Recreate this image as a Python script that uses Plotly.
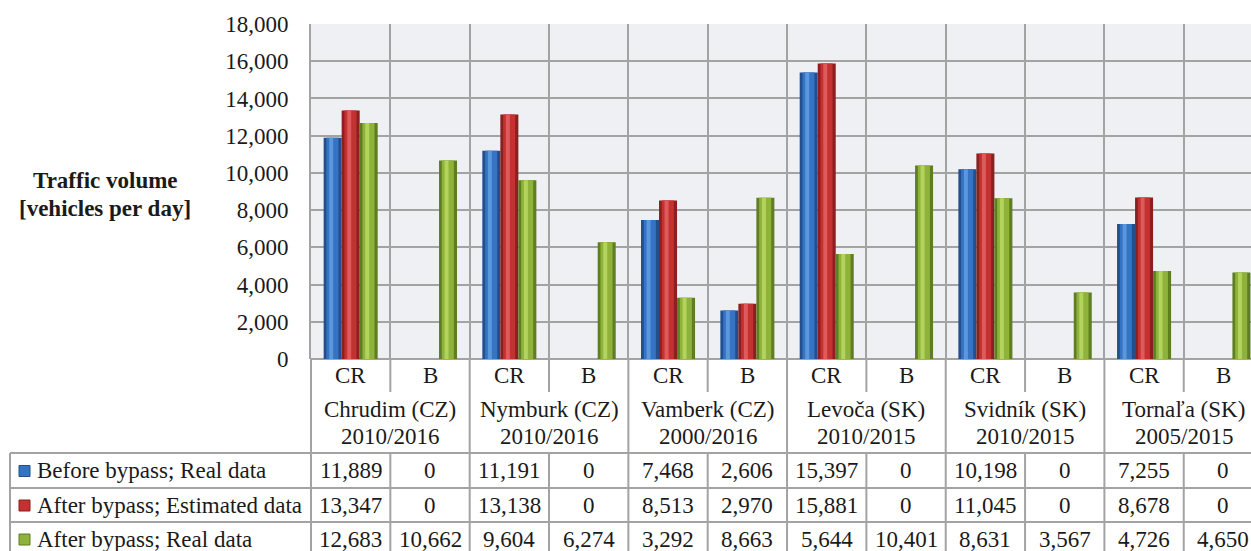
import plotly.graph_objects as go

# ---- data -------------------------------------------------------------
towns = ["Chrudim (CZ)", "Nymburk (CZ)", "Vamberk (CZ)",
         "Levoča (SK)", "Svidník (SK)", "Tornaľa (SK)"]
periods = ["2010/2016", "2010/2016", "2000/2016",
           "2010/2015", "2010/2015", "2005/2015"]
road_types = ["CR", "B"]  # CR = road through the town, B = bypass

series_names = ["Before bypass; Real data",
                "After bypass; Estimated data",
                "After bypass; Real data"]
before_real = [11889, 0, 11191, 0, 7468, 2606, 15397, 0, 10198, 0, 7255, 0]
after_estimated = [13347, 0, 13138, 0, 8513, 2970, 15881, 0, 11045, 0, 8678, 0]
after_real = [12683, 10662, 9604, 6274, 3292, 8663, 5644, 10401, 8631, 3567, 4726, 4650]

y_ticks = list(range(0, 18001, 2000))

# ---- geometry / style -------------------------------------------------
W, H = 1251, 551
PLOT_L, PLOT_R, PLOT_T, PLOT_B = 311, 1251, 24, 359
CAT_W = 79.34
FONT = "Liberation Serif, Times New Roman, serif"
TXT = "#1a1a1a"
GRID = "#a3a3a3"
FS = 23

columns = [(t, r) for t in range(len(towns)) for r in road_types]
xs = list(range(len(columns)))
x_max = -0.5 + (PLOT_R - PLOT_L) / CAT_W


def paper_x_of_cat(v):
    return (v + 0.5) * CAT_W / (PLOT_R - PLOT_L)


def paper_x(px):
    return (px - PLOT_L) / (PLOT_R - PLOT_L)


def paper_y(py):
    return (PLOT_B - py) / (PLOT_B - PLOT_T)


series = [before_real, after_estimated, after_real]
# (edge, body, highlight) shades for the rounded bar look
palettes = [("#234f8e", "#3573c4", "#5b97dd"),
            ("#8c1f1f", "#c43131", "#df5a5a"),
            ("#5f7d22", "#8fb33a", "#b2d35c")]
BAR_W = 0.227
offsets = [-1.5 * BAR_W, -0.5 * BAR_W, 0.5 * BAR_W]

fig = go.Figure()
for vals, name, (edge, body, hi), off in zip(series, series_names, palettes, offsets):
    fig.add_trace(go.Bar(x=xs, y=vals, name=name, offset=off, width=BAR_W,
                         marker=dict(color=edge, line=dict(width=0)),
                         showlegend=False, hoverinfo="y+name"))
    fig.add_trace(go.Bar(x=xs, y=vals, offset=off + 0.035, width=BAR_W - 0.075,
                         marker=dict(color=body, line=dict(width=0)),
                         showlegend=False, hoverinfo="skip"))
    fig.add_trace(go.Bar(x=xs, y=vals, offset=off + 0.07, width=0.05,
                         marker=dict(color=hi, line=dict(width=0)),
                         showlegend=False, hoverinfo="skip"))

shapes = []
annotations = []


def hline(py, px0, px1):
    shapes.append(dict(type="line", xref="paper", yref="paper",
                       x0=paper_x(px0), x1=min(1.0, paper_x(px1)),
                       y0=paper_y(py), y1=paper_y(py),
                       line=dict(color=GRID, width=2), layer="above"))


def vline(xp, py0, py1):
    shapes.append(dict(type="line", xref="paper", yref="paper",
                       x0=xp, x1=xp, y0=paper_y(py0), y1=paper_y(py1),
                       line=dict(color=GRID, width=2), layer="above"))


ROW_CR_TOP, ROW_CR_BOT = 359, 392
ROWS = [453, 488, 522, 556]
BOTTOM = H

# table grid
for k in range(len(columns)):
    xp = paper_x_of_cat(k - 0.5)
    if xp > 1:
        continue
    if k % 2 == 0:
        vline(xp, PLOT_B, BOTTOM)
    else:
        vline(xp, ROW_CR_TOP, ROW_CR_BOT)
        vline(xp, ROWS[0], BOTTOM)
for py in ROWS[:3]:
    hline(py, 10, W)
vline(paper_x(10), ROWS[0], BOTTOM)


def text(xp, py, s, size=FS, xanchor="center", bold=False):
    annotations.append(dict(xref="paper", yref="paper", x=xp, y=paper_y(py),
                            text=f"<b>{s}</b>" if bold else s,
                            showarrow=False, xanchor=xanchor, yanchor="middle",
                            font=dict(family=FONT, size=size, color=TXT)))


# CR / B row and town labels
for k, (t, r) in enumerate(columns):
    text(paper_x_of_cat(k), 375, r)
for t, (town, per) in enumerate(zip(towns, periods)):
    xc = paper_x_of_cat(2 * t + 0.5)
    text(xc, 409, town)
    text(xc, 436, per)

# data rows
for row, (vals, name, pal) in enumerate(zip(series, series_names, palettes)):
    yc = (ROWS[row] + ROWS[row + 1]) / 2
    for k, v in enumerate(vals):
        text(paper_x_of_cat(k), yc, f"{v:,}")
    text(paper_x(35), yc, name, xanchor="left")
    shapes.append(dict(type="rect", xref="paper", yref="paper",
                       x0=paper_x(19), x1=paper_x(30),
                       y0=paper_y(yc - 5), y1=paper_y(yc + 6),
                       fillcolor=pal[1], line=dict(color=pal[0], width=1)))

# axis title
text(paper_x(105), 181, "Traffic volume", bold=True, size=23)
text(paper_x(105), 208, "[vehicles per day]", bold=True, size=23)

fig.update_layout(
    width=W, height=H,
    margin=dict(l=PLOT_L, r=W - PLOT_R, t=PLOT_T, b=H - PLOT_B, pad=0),
    barmode="overlay",
    paper_bgcolor="white",
    plot_bgcolor="#eff0f3",
    showlegend=False,
    shapes=shapes,
    annotations=annotations,
    xaxis=dict(range=[-0.5, x_max], tickvals=[i + 0.5 for i in range(-1, 12)],
               showticklabels=False, ticks="", showgrid=True, gridcolor=GRID,
               gridwidth=2, zeroline=False, showline=False),
    yaxis=dict(range=[0, 18000], tickvals=y_ticks,
               ticktext=[f"{v:,}" for v in y_ticks],
               showgrid=True, gridcolor=GRID, gridwidth=2,
               zeroline=True, zerolinecolor=GRID, zerolinewidth=2,
               showline=True, linecolor=GRID, linewidth=2,
               ticks="", ticklabelstandoff=16,
               tickfont=dict(family=FONT, size=FS, color=TXT)),
)

fig.write_html("out.html")
